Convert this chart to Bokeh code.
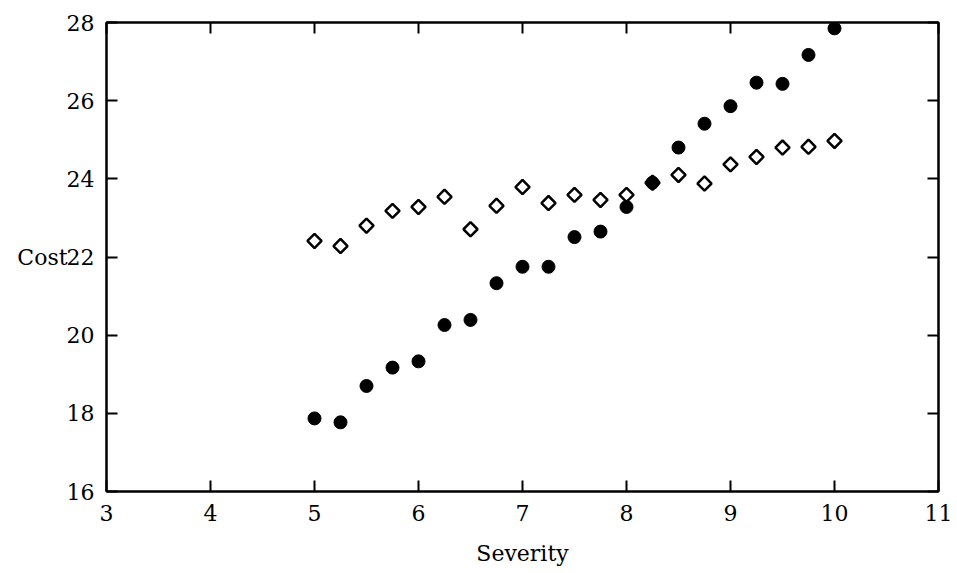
import numpy as np
from bokeh.plotting import figure
from bokeh.models import LinearAxis, FixedTicker, Range1d, CustomJSTickFormatter
from bokeh.embed import file_html
from bokeh.resources import INLINE

severity = [5.0, 5.25, 5.5, 5.75, 6.0, 6.25, 6.5, 6.75, 7.0, 7.25, 7.5,
            7.75, 8.0, 8.25, 8.5, 8.75, 9.0, 9.25, 9.5, 9.75, 10.0]
cost_filled = [17.87, 17.77, 18.70, 19.17, 19.33, 20.26, 20.39, 21.33, 21.75, 21.75, 22.51,
               22.65, 23.28, 23.90, 24.80, 25.41, 25.86, 26.46, 26.43, 27.17, 27.85]
cost_open = [22.41, 22.28, 22.80, 23.18, 23.28, 23.54, 22.71, 23.31, 23.79, 23.38, 23.59,
             23.46, 23.59, 23.90, 24.10, 23.88, 24.37, 24.56, 24.80, 24.82, 24.97]
x_ticks = [3, 4, 5, 6, 7, 8, 9, 10, 11]
y_ticks = [16, 18, 20, 22, 24, 26, 28]

FONT = "DejaVu Serif"

p = figure(width=957, height=573, output_backend="svg", toolbar_location=None,
           x_range=Range1d(3, 11), y_range=Range1d(16, 28),
           x_axis_location=None, y_axis_location=None,
           min_border_left=106, min_border_right=19, min_border_top=22, min_border_bottom=82)
p.grid.visible = False
p.outline_line_color = "black"
p.outline_line_width = 2
p.background_fill_color = "white"
p.border_fill_color = "white"


def style(ax):
    ax.axis_line_color = "black"
    ax.axis_line_width = 2
    ax.major_tick_in = 11
    ax.major_tick_out = 0
    ax.major_tick_line_width = 2
    ax.minor_tick_line_color = None
    ax.major_label_text_font = FONT
    ax.major_label_text_color = "black"
    ax.major_label_text_font_size = "22px"
    ax.axis_label_text_font = FONT
    ax.axis_label_text_font_style = "normal"
    ax.axis_label_text_font_size = "22px"
    ax.axis_label_text_color = "black"


bottom = LinearAxis(ticker=FixedTicker(ticks=x_ticks), axis_label="Severity")
style(bottom)
bottom.major_label_standoff = 13
bottom.axis_label_standoff = 17
p.add_layout(bottom, "below")

left = LinearAxis(ticker=FixedTicker(ticks=y_ticks), axis_label="Cost")
style(left)
left.major_label_standoff = 12
left.axis_label_orientation = "horizontal"
left.axis_label_standoff = -4
p.add_layout(left, "left")

blank = CustomJSTickFormatter(code="return '';")

top = LinearAxis(ticker=FixedTicker(ticks=x_ticks), formatter=blank)
style(top)
top.major_label_standoff = 0
p.add_layout(top, "above")

right = LinearAxis(ticker=FixedTicker(ticks=y_ticks), formatter=blank)
style(right)
right.major_label_standoff = 0
p.add_layout(right, "right")

p.scatter(severity, cost_open, marker="square", angle=np.pi / 4, size=10,
          fill_color="white", line_color="black", line_width=2.5)
p.scatter(severity, cost_filled, marker="circle", size=13,
          fill_color="black", line_color="black")

open("out.html", "w").write(file_html(p, INLINE))
